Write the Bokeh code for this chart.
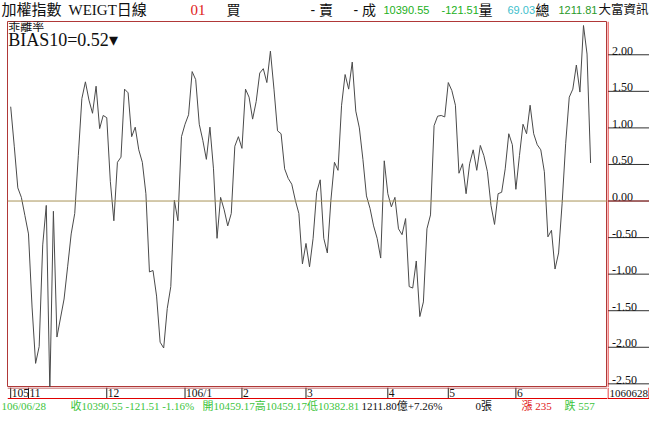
from bokeh.plotting import figure
from bokeh.models import Range1d, Span
from bokeh.layouts import column, row
from bokeh.core.properties import value
from bokeh.embed import file_html
from bokeh.resources import INLINE

# ---------------- data ----------------
bias10 = [
    1.29, 0.75, 0.18, 0.05, -0.20, -0.45, -1.45, -2.22, -1.99, -0.60,
    -0.06, -2.60, -0.14, -1.86, -1.60, -1.34, -0.90, -0.45, -0.17, 0.62,
    1.40, 1.63, 1.38, 1.20, 1.57, 0.99, 1.17, 1.14, 0.27, -0.27,
    0.53, 0.60, 1.53, 1.48, 0.88, 1.01, 0.70, 0.53, 0.10, -0.97,
    -0.95, -1.30, -1.93, -2.01, -1.47, -1.17, 0.01, -0.27, 0.88, 1.05,
    1.18, 1.77, 1.66, 1.05, 0.83, 0.57, 1.01, 0.44, -0.51, 0.05,
    -0.12, -0.34, -0.17, 0.75, 0.88, 0.72, 1.53, 1.42, 1.12, 1.36,
    1.75, 1.81, 1.62, 2.05, 1.53, 0.96, 0.92, 0.44, 0.31, 0.23,
    0.01, -0.17, -0.86, -0.58, -0.90, -0.51, 0.12, 0.29, -0.51, -0.71,
    0.01, 0.53, 0.42, 1.31, 1.73, 1.53, 1.90, 1.23, 1.00, 0.57,
    0.07, -0.10, -0.34, -0.51, -0.78, 0.55, 0.10, -0.08, 0.05, -0.38,
    -0.46, -0.24, -1.17, -1.19, -0.82, -1.58, -1.38, -0.38, -0.19, 1.03,
    1.16, 1.17, 1.15, 1.62, 1.51, 1.31, 0.38, 0.51, 0.10, 0.51,
    0.70, 0.42, 0.76, 0.62, 0.40, -0.06, -0.32, 0.10, 0.12, 0.44,
    0.92, 0.77, 0.16, 0.62, 1.05, 0.92, 1.31, 0.92, 0.77, 0.70,
    0.40, -0.49, -0.40, -0.93, -0.71, -0.03, 0.79, 1.42, 1.53, 1.86,
    1.49, 2.40, 2.01, 0.52,
]
day_index = list(range(len(bias10)))

month_tick_idx = [0, 5, 27, 49, 65, 83, 106, 123, 142]
month_tick_labels = ["105", "11", "12", "106/1", "2", "3", "4", "5", "6"]

y_ticks = [2.0, 1.5, 1.0, 0.5, 0.0, -0.5, -1.0, -1.5, -2.0, -2.5]
y_tick_labels = ["2.00", "1.50", "1.00", "0.50", "0.00", "-0.50", "-1.00", "-1.50", "-2.00", "-2.50"]

last_date_label = "1060628"
indicator_name = "乖離率"
indicator_value_label = "BIAS10=0.52▾"

header_texts = ["加權指數", "WEIGT日線", "01", "買", "- 賣", "- 成", "10390.55", "-121.51", "量",
                "69.03", "總", "1211.81", "大富資訊"]
footer_texts = ["106/06/28", "收10390.55 -121.51 -1.16%", "開10459.17高10459.17低10382.81",
                "1211.80億+7.26%", "0張", "漲 235", "跌 557"]

# ---------------- layout constants ----------------
W = 649
HEAD_H, MAIN_H, STRIP_H, FOOT_H = 21, 366, 12, 13
LEFT_PAD, RIGHT_W = 7, 42
MAIN_W = W - RIGHT_W

SERIF = "Liberation Serif, Noto Sans CJK TC"
SANS = "Liberation Sans, Noto Sans CJK TC"
BLACK = "#101010"
GREEN = "#22b022"
GREEN2 = "#3cc43c"
RED = "#e02020"
BORDER = "#b03838"
AXRED = "#e00000"


def bare(width, height, x_range, y_range, left=0):
    f = figure(width=width, height=height, output_backend="svg", toolbar_location=None,
               x_range=x_range, y_range=y_range, x_axis_location=None, y_axis_location=None,
               min_border_left=left, min_border_right=0, min_border_top=0, min_border_bottom=0)
    f.xgrid.grid_line_color = None
    f.ygrid.grid_line_color = None
    f.outline_line_color = None
    f.background_fill_color = "white"
    f.border_fill_color = "white"
    return f


x_rng = Range1d(-0.9, len(bias10) - 1 + 4.75)
y_rng = Range1d(-2.55, 2.455)

# ---------- header ----------
head = bare(W, HEAD_H, Range1d(0, W), Range1d(0, HEAD_H))
hx = [1, 68, 190, 226, 310, 353, 383, 441, 478, 507, 535, 558, 598]
hc = [BLACK, BLACK, RED, BLACK, BLACK, BLACK, GREEN, GREEN, BLACK, "#40c0cc", BLACK, "#2a9a2a", BLACK]
hf = [SERIF, SERIF, SERIF, SANS, SANS, SANS, SANS, SANS, SANS, SANS, SANS, SANS, SANS]
hs = ["15px", "15px", "15px", "14px", "14px", "14px", "11px", "11px", "14px", "11px", "14px",
      "11px", "12.5px"]
head.text(x=hx, y=[HEAD_H / 2 + 1] * len(hx), text=header_texts, text_color=hc, text_font=hf,
          text_font_size=hs, text_baseline="middle", text_align="left")

# ---------- main plot ----------
p = bare(MAIN_W, MAIN_H, x_rng, y_rng, left=LEFT_PAD)
p.outline_line_color = BORDER
p.add_layout(Span(location=0, dimension="width", line_color="#a89458", line_width=1))
p.line(day_index, bias10, line_color="#4a4a4a", line_width=1)
p.text(x=[x_rng.start + 0.2], y=[y_rng.end - 0.075], text=[indicator_name], text_font=value(SANS),
       text_font_size="12px", text_color=BLACK, text_baseline="middle", text_align="left")
p.text(x=[x_rng.start + 0.2], y=[y_rng.end - 0.25], text=[indicator_value_label],
       text_font=value(SERIF), text_font_size="18px", text_color=BLACK,
       text_baseline="middle", text_align="left")

# ---------- right value panel ----------
rp = bare(RIGHT_W, MAIN_H, Range1d(-0.5, RIGHT_W - 0.5), y_rng)
rp.segment(x0=[0] * len(y_ticks), x1=[RIGHT_W] * len(y_ticks), y0=y_ticks, y1=y_ticks,
           line_color="#303030", line_width=1)
rp.text(x=[4] * len(y_ticks), y=y_ticks, text=y_tick_labels, text_font=value(SERIF),
        text_font_size="12px", text_color=BLACK, text_baseline="bottom", text_align="left")
rp.add_layout(Span(location=0, dimension="height", line_color=AXRED, line_width=1))
rp.add_layout(Span(location=0, dimension="width", line_color=BORDER, line_width=1))

# ---------- date strip ----------
st = bare(MAIN_W, STRIP_H, x_rng, Range1d(0, STRIP_H), left=LEFT_PAD)
st.segment(x0=month_tick_idx, x1=month_tick_idx, y0=[0] * len(month_tick_idx),
           y1=[STRIP_H] * len(month_tick_idx), line_color="#202020", line_width=1)
st.text(x=month_tick_idx, y=[STRIP_H / 2 + 0.5] * len(month_tick_idx), text=month_tick_labels,
        x_offset=1, text_font=value(SERIF), text_font_size="11.5px", text_color=BLACK,
        text_baseline="middle", text_align="left")
st.add_layout(Span(location=STRIP_H - 0.5, dimension="width", line_color=BORDER, line_width=1))
st.add_layout(Span(location=1, dimension="width", line_color=AXRED, line_width=1))

sr = bare(RIGHT_W, STRIP_H, Range1d(-0.5, RIGHT_W - 0.5), Range1d(0, STRIP_H))
sr.text(x=[1.5], y=[STRIP_H / 2 + 0.5], text=[last_date_label], text_font=value(SERIF),
        text_font_size="11px", text_color=BLACK, text_baseline="middle", text_align="left")
sr.add_layout(Span(location=0, dimension="height", line_color=AXRED, line_width=1))
sr.add_layout(Span(location=RIGHT_W - 1, dimension="height", line_color=AXRED, line_width=1))
sr.add_layout(Span(location=1, dimension="width", line_color=AXRED, line_width=1))

# ---------- footer ----------
foot = bare(W, FOOT_H, Range1d(0, W), Range1d(0, FOOT_H))
fx = [1, 70, 202, 361, 475, 521, 564]
fc = [GREEN2, GREEN2, GREEN2, BLACK, BLACK, RED, GREEN2]
foot.text(x=fx, y=[FOOT_H / 2] * len(fx), text=footer_texts, text_color=fc,
          text_font=value(SERIF), text_font_size="11px", text_baseline="middle", text_align="left")

layout = column(head, row(p, rp), row(st, sr), foot)

open("out.html", "w").write(file_html(layout, INLINE))
